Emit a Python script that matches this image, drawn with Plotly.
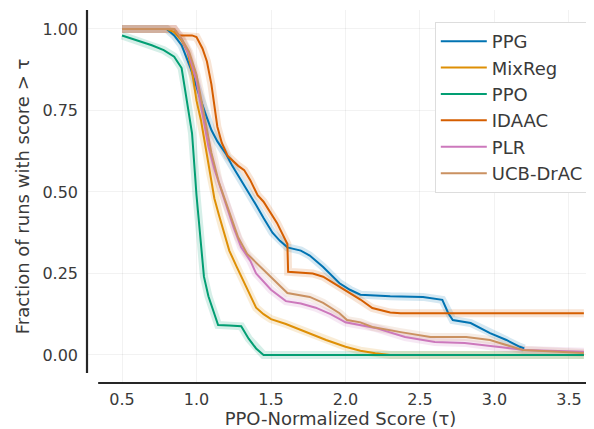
import plotly.graph_objects as go

# ---- data ----
names = ["PPG", "MixReg", "PPO", "IDAAC", "PLR", "UCB-DrAC"]
colors = ["#0173b2", "#de8f05", "#029e73", "#d55e00", "#cc78bc", "#ca9161"]

ppg_x = [0.5, 0.8, 0.85, 0.9, 0.96, 1.0, 1.03, 1.06, 1.1, 1.14, 1.2, 1.24, 1.3, 1.35, 1.4, 1.45, 1.51, 1.56, 1.61, 1.7, 1.76, 1.85, 1.96, 2.03, 2.1, 2.3, 2.52, 2.65, 2.69, 2.72, 2.84, 2.97, 3.08, 3.17, 3.2]
ppg_y = [1.0, 1.0, 0.98, 0.95, 0.88, 0.82, 0.78, 0.74, 0.69, 0.655, 0.615, 0.58, 0.535, 0.50, 0.46, 0.42, 0.375, 0.35, 0.33, 0.32, 0.305, 0.27, 0.22, 0.20, 0.185, 0.18, 0.178, 0.169, 0.128, 0.107, 0.098, 0.067, 0.046, 0.025, 0.02]

mixreg_x = [0.5, 0.8, 0.85, 0.9, 0.94, 0.97, 1.0, 1.03, 1.06, 1.09, 1.12, 1.15, 1.18, 1.22, 1.27, 1.32, 1.36, 1.4, 1.45, 1.5, 1.6, 1.7, 1.8, 1.87, 2.0, 2.1, 2.2, 2.3, 3.6]
mixreg_y = [1.0, 1.0, 0.99, 0.965, 0.93, 0.87, 0.78, 0.72, 0.64, 0.56, 0.48, 0.43, 0.38, 0.32, 0.27, 0.22, 0.18, 0.145, 0.125, 0.11, 0.095, 0.077, 0.058, 0.046, 0.025, 0.013, 0.005, 0.0, 0.0]

ppo_x = [0.5, 0.6, 0.7, 0.78, 0.85, 0.9, 0.93, 0.97, 1.0, 1.03, 1.05, 1.08, 1.11, 1.145, 1.22, 1.3, 1.35, 1.4, 1.45, 3.6]
ppo_y = [0.98, 0.965, 0.95, 0.935, 0.915, 0.88, 0.80, 0.68, 0.49, 0.33, 0.24, 0.18, 0.14, 0.092, 0.09, 0.088, 0.05, 0.02, 0.0, 0.0]

idaac_x = [0.5, 0.85, 0.88, 0.97, 1.0, 1.04, 1.07, 1.10, 1.14, 1.17, 1.21, 1.28, 1.32, 1.36, 1.41, 1.45, 1.54, 1.61, 1.615, 1.78, 1.85, 2.01, 2.1, 2.18, 2.3, 2.37, 3.6]
idaac_y = [1.0, 1.0, 0.98, 0.98, 0.975, 0.94, 0.90, 0.83, 0.70, 0.65, 0.61, 0.58, 0.567, 0.537, 0.49, 0.47, 0.405, 0.34, 0.255, 0.25, 0.24, 0.194, 0.17, 0.144, 0.13, 0.128, 0.128]

plr_x = [0.5, 0.85, 0.9, 0.95, 1.0, 1.05, 1.08, 1.12, 1.18, 1.25, 1.3, 1.36, 1.4, 1.5, 1.6, 1.7, 1.8, 1.9, 2.0, 2.2, 2.4, 2.6, 2.8, 3.0, 3.2, 3.6]
plr_y = [1.0, 1.0, 0.97, 0.92, 0.84, 0.71, 0.64, 0.57, 0.485, 0.39, 0.33, 0.29, 0.25, 0.20, 0.165, 0.158, 0.145, 0.125, 0.10, 0.083, 0.055, 0.04, 0.037, 0.025, 0.015, 0.01]

ucb_x = [0.5, 0.85, 0.9, 0.95, 1.0, 1.05, 1.1, 1.15, 1.22, 1.28, 1.34, 1.45, 1.54, 1.61, 1.76, 1.85, 1.96, 2.01, 2.1, 2.18, 2.37, 2.57, 2.81, 2.97, 3.19, 3.6]
ucb_y = [1.0, 1.0, 0.97, 0.93, 0.86, 0.74, 0.62, 0.53, 0.435, 0.36, 0.31, 0.26, 0.22, 0.19, 0.178, 0.16, 0.128, 0.107, 0.10, 0.086, 0.07, 0.055, 0.055, 0.046, 0.015, 0.006]

x_ticks = [0.5, 1.0, 1.5, 2.0, 2.5, 3.0, 3.5]
x_tick_text = ["0.5", "1.0", "1.5", "2.0", "2.5", "3.0", "3.5"]
y_ticks = [0.0, 0.25, 0.5, 0.75, 1.0]
y_tick_text = ["0.00", "0.25", "0.50", "0.75", "1.00"]

series = [(ppg_x, ppg_y), (mixreg_x, mixreg_y), (ppo_x, ppo_y),
          (idaac_x, idaac_y), (plr_x, plr_y), (ucb_x, ucb_y)]

fig = go.Figure()
# translucent wide strokes (confidence-band look)
for (xs, ys), c, n in zip(series, colors, names):
    fig.add_trace(go.Scatter(x=xs, y=ys, mode="lines", line=dict(color=c, width=8),
                             opacity=0.16, showlegend=False, hoverinfo="skip"))
for (xs, ys), c, n in zip(series, colors, names):
    fig.add_trace(go.Scatter(x=xs, y=ys, mode="lines", name=n,
                             line=dict(color=c, width=2)))

text_col = "#3a3a3a"
# the page body adds an 8px margin, so the figure is 8px smaller and shifted
fig.update_layout(
    width=586, height=421,
    margin=dict(l=79, r=0, t=2, b=46),
    paper_bgcolor="white", plot_bgcolor="white",
    font=dict(family="DejaVu Sans", size=16, color=text_col),
    showlegend=True,
    legend=dict(x=0.686, y=0.968, xanchor="left", yanchor="top",
                bgcolor="white", bordercolor="#dddddd", borderwidth=1,
                itemwidth=46,
                font=dict(size=18, color=text_col), tracegroupgap=0),
    xaxis=dict(range=[0.265, 3.668], tickvals=x_ticks, ticktext=x_tick_text, ticks="",
               showline=False, zeroline=False, showgrid=True,
               gridcolor="rgba(0,0,0,0.05)", automargin=False,
               tickfont=dict(size=16), ticklabelstandoff=5,
               title=dict(text="PPO-Normalized Score (τ)", font=dict(size=18), standoff=7)),
    yaxis=dict(range=[-0.086, 1.058], tickvals=y_ticks, ticktext=y_tick_text, ticks="",
               showline=False, zeroline=False, showgrid=True,
               gridcolor="rgba(0,0,0,0.05)", automargin=False,
               tickfont=dict(size=16), ticklabelstandoff=8,
               title=dict(text="Fraction of runs with score > τ", font=dict(size=18), standoff=8)),
    shapes=[
        dict(type="line", xref="paper", yref="paper", x0=0, x1=0, y0=0.027, y1=1.0,
             line=dict(color="#262626", width=2.2)),
        dict(type="line", xref="paper", yref="paper", x0=0.022, x1=1.0, y0=0, y1=0,
             line=dict(color="#262626", width=2.2)),
    ],
)

fig.write_html("out.html")
